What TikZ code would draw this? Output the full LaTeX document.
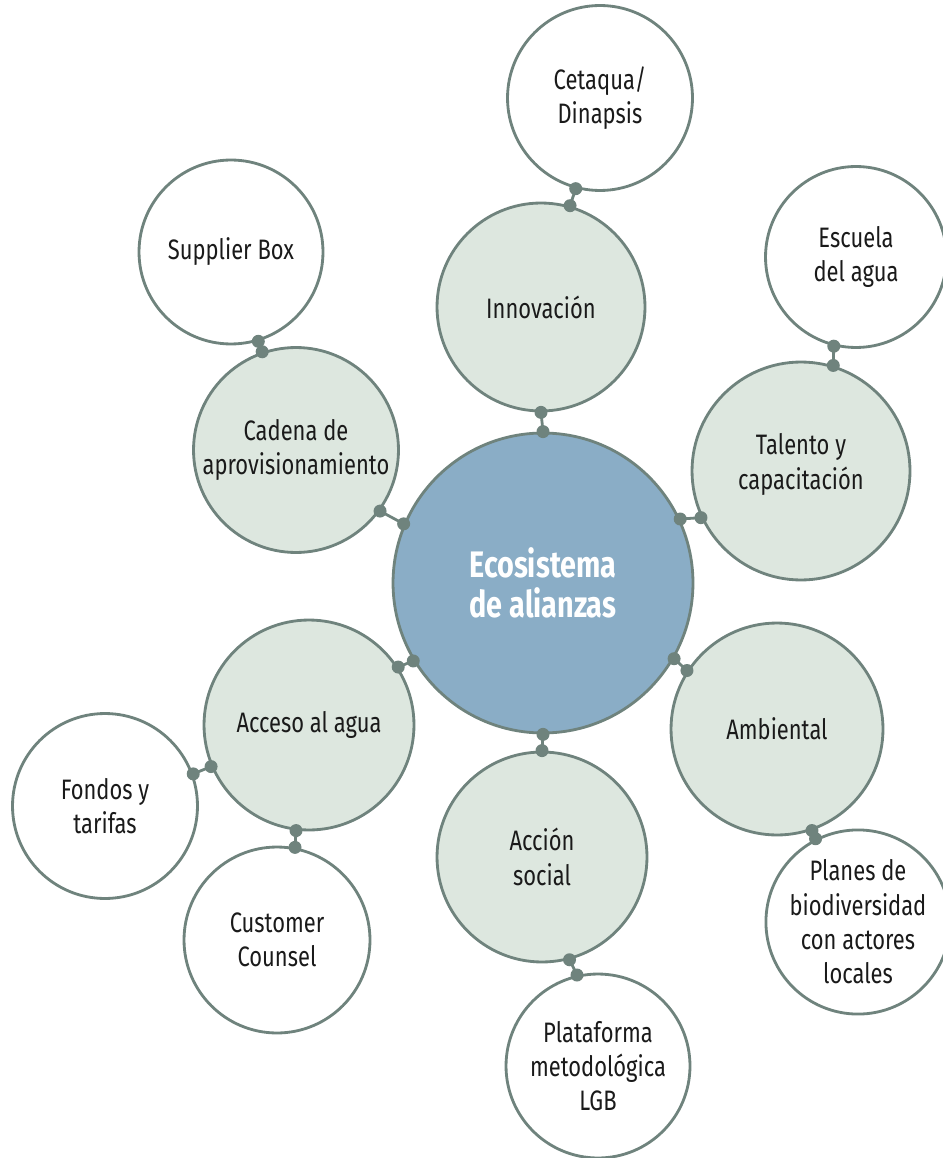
\documentclass[tikz,border=0pt]{standalone}
\usepackage{fontspec}
\setmainfont[FakeStretch=0.78]{Fira Sans}
\definecolor{edge}{HTML}{6F837D}
\definecolor{hub}{HTML}{8AADC6}
\definecolor{mid}{HTML}{DDE7DF}
\definecolor{txt}{HTML}{1A1A1A}
\begin{document}
\begin{tikzpicture}[x=0.02cm,y=-0.02cm,
  base/.style={circle,draw=edge,line width=1.6pt,inner sep=0pt,align=center,font=\fontsize{16}{19.5}\selectfont,text=txt},
  hubc/.style={base,fill=hub,minimum size=6cm,text=white,font=\fontsize{21}{23}\selectfont\bfseries},
  midc/.style={base,fill=mid},
  outc/.style={base,fill=white},
  dotc/.style={circle,fill=edge,inner sep=0pt,minimum size=0.26cm},
  conn/.style={draw=edge,line width=1.6pt}]
\useasboundingbox (0,0) rectangle (942,1158);
\node[hubc] (hub) at (543,583) {Ecosistema\\de alianzas};
\node[midc,minimum size=4.16cm] (inn) at (541,307) {Innovación};
\node[outc,minimum size=3.7cm] (cet) at (600,98) {Cetaqua/\\Dinapsis};
\node[midc,minimum size=4.36cm] (tal) at (801,471) {Talento y\\capacitación\\[-0.3cm]};
\node[outc,minimum size=3.62cm] (esc) at (856,257) {Escuela\\del agua};
\node[midc,minimum size=4.1cm] (cad) at (296,450) {Cadena de\\aprovisionamiento};
\node[outc,minimum size=3.68cm] (sup) at (231,252) {Supplier Box};
\node[midc,minimum size=4.2cm] (acc) at (309,725) {Acceso al agua};
\node[outc,minimum size=3.7cm] (fon) at (105,806) {Fondos y\\tarifas};
\node[outc,minimum size=3.72cm] (cus) at (277,940) {Customer\\Counsel};
\node[midc,minimum size=4.2cm] (soc) at (542,857) {Acción\\social};
\node[outc,minimum size=3.68cm] (pla) at (598,1066) {Plataforma\\metodológica\\LGB};
\node[midc,minimum size=4.24cm] (amb) at (777,729) {Ambiental};
\node[outc,minimum size=3.44cm] (pln) at (858,922) {Planes de\\biodiversidad\\con actores\\locales};
\foreach \a/\b in {
  hub.90/inn.270, inn.74/cet.255,
  hub.25/tal.205, tal.73/esc.256,
  hub.157/cad.-36, cad.109/sup.287,
  hub.211/acc.33, acc.203/fon.20, acc.263/cus.79,
  hub.270/soc.90, soc.285/pla.103,
  hub.-30/amb.147, amb.289/pln.117}
  \path[conn] (\a) -- (\b) node[dotc,pos=0]{} node[dotc,pos=1]{};
\end{tikzpicture}
\end{document}
